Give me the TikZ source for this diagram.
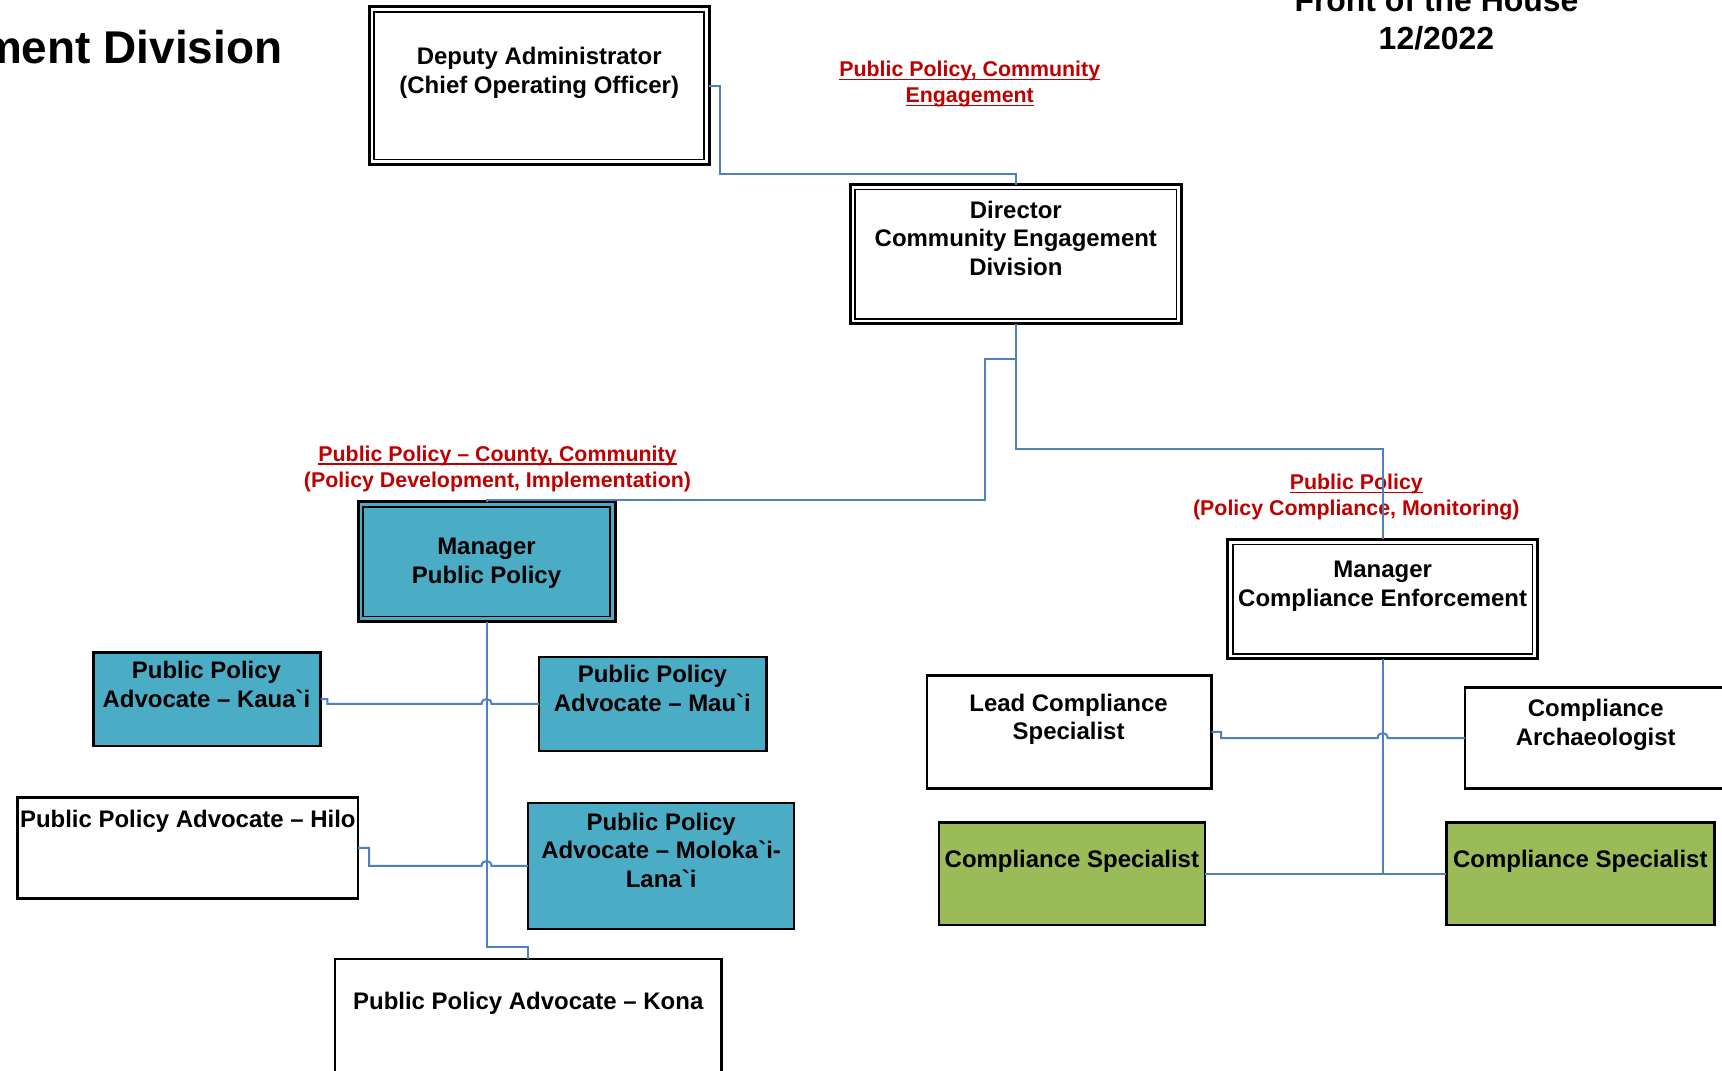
\documentclass[tikz,border=0pt]{standalone}
\usepackage{fontspec}
\newfontfamily\arialfam{Liberation Sans}
\usetikzlibrary{calc}

\definecolor{linkblue}{HTML}{4F81BD}
\definecolor{ppteal}{HTML}{4BACC6}
\definecolor{csgreen}{HTML}{9BBB59}
\definecolor{labelred}{HTML}{C00000}

% underline set close to the baseline
\newcommand\redul[1]{\setbox0\hbox{#1}\rlap{\rule[-1.7pt]{\wd0}{0.75pt}}\box0}

% \orgbox{name}{x1}{y1}{x2}{y2}{style}: rectangle given by its corners
\newcommand\orgbox[6]{%
  \node[#6, minimum width={(#4-#2)*0.55pt}, minimum height={(#5-#3)*0.55pt}]
    (#1) at ({(#2+#4)/2},{(#3+#5)/2}) {};}

% inner line of a double frame
\newcommand\innerframe[1]{%
  \draw[line width=0.8pt] ([xshift=2.6pt,yshift=-2.6pt]#1.north west)
    rectangle ([xshift=-2.6pt,yshift=2.6pt]#1.south east);}

\begin{document}
\begin{tikzpicture}[x=0.55pt, y=-0.55pt,
  every node/.style={inner sep=0pt, outer sep=0pt},
  box/.style={draw=black, line width=1.2pt, rectangle},
  dbl/.style={draw=black, line width=1.5pt, rectangle},
  txt/.style={font=\arialfam\bfseries\fontsize{12}{14.3}\selectfont, align=center, anchor=north},
  redtxt/.style={font=\arialfam\bfseries\fontsize{10.7}{12.9}\selectfont, text=labelred, align=center, anchor=north},
  link/.style={draw=linkblue, line width=1pt},
]
\useasboundingbox (0,0) rectangle (1568,975);

% headings
\node[font=\arialfam\bfseries\fontsize{23}{27}\selectfont, anchor=base east] (title) at (257,58) {Community Engagement Division};
\node[font=\arialfam\bfseries\fontsize{16}{19}\selectfont, align=center, anchor=north] (stamp) at (1308,-10.6) {Front of the House\\12/2022};

% boxes
\orgbox{dep}{336}{6}{646}{150}{dbl, fill=white}
\orgbox{dir}{774}{168}{1076}{295}{dbl, fill=white}
\orgbox{mpp}{326}{457}{560}{566}{dbl, fill=ppteal}
\orgbox{mce}{1118}{491}{1400}{600}{dbl, fill=white}
\innerframe{dep}
\innerframe{dir}
\innerframe{mpp}
\innerframe{mce}
\orgbox{kau}{85}{594}{292}{679}{box, fill=ppteal}
\orgbox{mau}{491}{598}{698}{684}{box, fill=ppteal}
\orgbox{hilo}{16}{726}{326}{818}{box, fill=white}
\orgbox{mol}{481}{731}{723}{846}{box, fill=ppteal}
\orgbox{kona}{305}{873}{657}{1000}{box, fill=white}
\orgbox{lead}{844}{615}{1103}{718}{box, fill=white}
\orgbox{arch}{1334}{626}{1572}{718}{box, fill=white}
\orgbox{csa}{855}{749}{1097}{842}{box, fill=csgreen}
\orgbox{csb}{1317}{749}{1561}{842}{box, fill=csgreen}

% box titles
\node[txt] (dep-t) at (491,43) {Deputy Administrator\\(Chief Operating Officer)};
\node[txt] (dir-t) at (925,183) {Director\\Community Engagement\\Division};
\node[txt] (mpp-t) at (443,490) {Manager\\Public Policy};
\node[txt] (mce-t) at (1259,511) {Manager\\Compliance Enforcement};
\node[txt] (kau-t) at (188,602) {Public Policy\\Advocate – Kaua`i};
\node[txt] (mau-t) at (594,606) {Public Policy\\Advocate – Mau`i};
\node[txt] (hilo-t) at (171,738) {Public Policy Advocate – Hilo};
\node[txt] (mol-t) at (602,740) {Public Policy\\Advocate – Moloka`i-\\Lana`i};
\node[txt] (kona-t) at (481,903) {Public Policy Advocate – Kona};
\node[txt] (lead-t) at (973,632) {Lead Compliance\\Specialist};
\node[txt] (arch-t) at (1453,637) {Compliance\\Archaeologist};
\node[txt] (csa-t) at (976,774) {Compliance Specialist};
\node[txt] (csb-t) at (1439,774) {Compliance Specialist};

% red function labels
\node[redtxt] (lbl-ce) at (883,56) {\redul{Public Policy, Community}\\\redul{Engagement}};
\node[redtxt] (lbl-pp) at (453,406) {\redul{Public Policy – County, Community}\\(Policy Development, Implementation)};
\node[redtxt] (lbl-cmp) at (1235,432) {\redul{Public Policy}\\(Policy Compliance, Monitoring)};

% reporting lines
\draw[link] (dep.east) -- ++(10,0) -- ++(0,80) -| (dir.north);
\draw[link] (dir.south) -- ++(0,32) -| (897,455) -| (mpp.north);
\draw[link] (dir.south) -- ++(0,114) -| (mce.north);
\draw[link] (mpp.south) -- ++(0,296) -| (kona.north);
\draw[link] (kau.east) -- ++(6,0) |- (438.5,641)
  .. controls (438.5,635) and (447.5,635) .. (447.5,641) -- (mau.west);
\draw[link] (hilo.east) -- ++(10,0) |- (438.5,788.5)
  .. controls (438.5,782.5) and (447.5,782.5) .. (447.5,788.5) -- (mol.west);
\draw[link] (mce.south) |- (csa.east);
\draw[link] (mce.south) |- (csb.west);
\draw[link] (lead.east) -- ++(9,0) |- (1254.5,672)
  .. controls (1254.5,666) and (1263.5,666) .. (1263.5,672) -- (arch.west);
\end{tikzpicture}
\end{document}
